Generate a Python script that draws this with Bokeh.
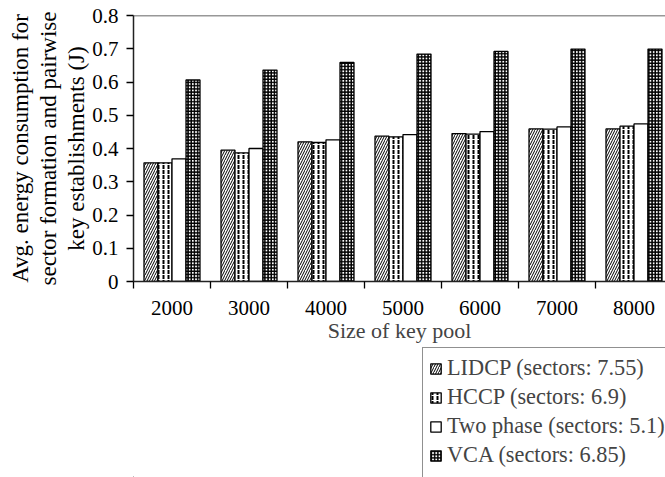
from bokeh.plotting import figure
from bokeh.models import (Range1d, FixedTicker, Span, Legend, LegendItem, ColumnDataSource, Title)
from bokeh.layouts import column
from bokeh.embed import file_html
from bokeh.resources import INLINE

pool_sizes = ["2000", "3000", "4000", "5000", "6000", "7000", "8000"]
lidcp = [0.357, 0.395, 0.420, 0.437, 0.445, 0.459, 0.459]
hccp = [0.357, 0.387, 0.418, 0.435, 0.443, 0.458, 0.467]
two_phase = [0.369, 0.400, 0.426, 0.442, 0.451, 0.465, 0.474]
vca = [0.606, 0.636, 0.659, 0.684, 0.692, 0.699, 0.699]
series_names = ["LIDCP (sectors: 7.55)", "HCCP (sectors: 6.9)",
                "Two phase (sectors: 5.1)", "VCA (sectors: 6.85)"]
y_ticks = [0, 0.1, 0.2, 0.3, 0.4, 0.5, 0.6, 0.7, 0.8]
y_tick_labels = ["0", "0.1", "0.2", "0.3", "0.4", "0.5", "0.6", "0.7", "0.8"]
y_label_lines = ["Avg. energy consumption for", "sector formation and pairwise",
                 "key establishments (J)"]
x_label = "Size of key pool"

FONT = "Liberation Serif"
n = len(pool_sizes)
centers = [i + 0.5 for i in range(n)]
bw = 14 / 77

p = figure(width=665, height=345, output_backend="svg", toolbar_location=None,
           x_range=Range1d(0, 532 / 77), y_range=Range1d(0, 0.8),
           min_border_left=133, min_border_top=15, min_border_right=0,
           min_border_bottom=62)
p.outline_line_color = None
p.xgrid.visible = False
p.ygrid.visible = False

styles = [
    dict(fill_color="white", hatch_pattern="/", hatch_color="black", hatch_scale=5, hatch_weight=1),
    dict(fill_color="white", hatch_pattern=":", hatch_color="black", hatch_scale=5, hatch_weight=2),
    dict(fill_color="white"),
    dict(fill_color="white", hatch_pattern="+", hatch_color="black", hatch_scale=3.2, hatch_weight=1.7),
]
data = [lidcp, hccp, two_phase, vca]
for k, (vals, st) in enumerate(zip(data, styles)):
    xs = [c + (k - 1.5) * bw for c in centers]
    src = ColumnDataSource(dict(x=xs, top=vals))
    p.vbar(x="x", top="top", bottom=0, width=bw, source=src,
           line_color="black", line_width=1.3, **st)

p.add_layout(Span(location=0.8, dimension="width", line_color="#333333", line_width=1.5))

# y axis
yax = p.yaxis[0]
yax.ticker = FixedTicker(ticks=y_ticks)
yax.major_label_overrides = {t: l for t, l in zip(y_ticks, y_tick_labels)}
yax.major_label_text_font = FONT
yax.major_label_text_font_size = "21px"
yax.major_label_text_color = "black"
yax.major_tick_out = 7
yax.major_tick_in = 0
yax.minor_tick_out = 0
yax.minor_tick_in = 0
yax.major_label_standoff = 8
yax.axis_line_color = "#222222"
yax.axis_line_width = 1.5
yax.major_tick_line_width = 1.3

for txt in reversed(y_label_lines):
    p.add_layout(Title(text=txt, align="center", offset=17, text_font=FONT,
                       text_font_size="23px", text_font_style="normal",
                       text_color="black", standoff=1), "left")

# x axis
xax = p.xaxis[0]
xax.ticker = FixedTicker(ticks=centers, minor_ticks=list(range(n + 1)))
xax.major_label_overrides = {c: s for c, s in zip(centers, pool_sizes)}
xax.major_label_text_font = FONT
xax.major_label_text_font_size = "21px"
xax.major_label_text_color = "black"
xax.major_tick_out = 0
xax.major_tick_in = 0
xax.minor_tick_out = 7
xax.minor_tick_in = 0
xax.minor_tick_line_color = "black"
xax.minor_tick_line_width = 1.3
xax.major_label_standoff = 12
xax.axis_line_color = "#222222"
xax.axis_line_width = 1.5
xax.axis_label = x_label
xax.axis_label_text_font = FONT
xax.axis_label_text_font_size = "22px"
xax.axis_label_text_font_style = "normal"
xax.axis_label_standoff = 0

# legend panel below
q = figure(width=665, height=132, output_backend="svg", toolbar_location=None,
           x_range=Range1d(10, 20), y_range=Range1d(10, 20),
           min_border_left=0, min_border_top=0, min_border_right=0, min_border_bottom=0)
q.axis.visible = False
q.xgrid.visible = False
q.ygrid.visible = False
q.outline_line_color = None
items = []
for nm, st in zip(series_names, styles):
    r = q.vbar(x=[0], top=[1], bottom=0, width=0.5, line_color="black", line_width=1.3, **st)
    items.append(LegendItem(label=nm, renderers=[r]))
blank = q.vbar(x=[0], top=[1], width=0.5, fill_alpha=0, line_alpha=0)
items.append(LegendItem(label=" ", renderers=[blank]))
legend = Legend(items=items, location=(289, -28), orientation="vertical",
                glyph_width=13, glyph_height=13, label_standoff=5,
                label_height=28, spacing=1, padding=6, margin=0,
                label_text_font=FONT, label_text_font_size="22.3px",
                border_line_color="#222222", border_line_width=1.3,
                background_fill_color="white", background_fill_alpha=1)
q.add_layout(legend, "center")

layout = column(p, q, spacing=0)
open("out.html", "w").write(file_html(layout, INLINE))
